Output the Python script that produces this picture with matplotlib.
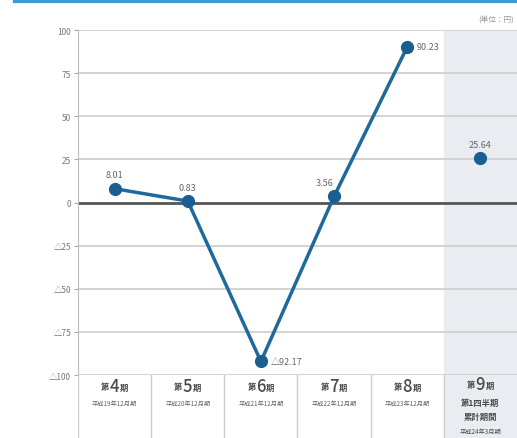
import matplotlib.pyplot as plt
import numpy as np

plt.rcParams['font.family'] = ['Noto Sans CJK JP', 'DejaVu Sans']

# 1株当たり当期純利益 (単位：円)
periods = ['4', '5', '6', '7', '8', '9']
sub_labels = ['平成19年12月期', '平成20年12月期', '平成21年12月期',
              '平成22年12月期', '平成23年12月期']
sub_label_9 = ['第1四半期', '累計期間', '平成24年3月期']
values = [8.01, 0.83, -92.17, 3.56, 90.23, 25.64]
value_text = ['8.01', '0.83', '△92.17', '3.56', '90.23', '25.64']
yticks = [100, 75, 50, 25, 0, -25, -50, -75, -100]
ytick_labels = ['100', '75', '50', '25', '0', '△25', '△50', '△75', '△100']

W, H = 517, 439
fig = plt.figure(figsize=(W / 100, H / 100), dpi=100)

# 上の青い線
fig.add_artist(plt.Line2D([15 / W, 1], [1 - 1.5 / H, 1 - 1.5 / H],
                          color='#3a9ad6', lw=3, transform=fig.transFigure))

left, right, top, bot = 78, 517, 31, 376
ax = fig.add_axes([left / W, 1 - bot / H, (right - left) / W, (bot - top) / H])
ax.set_xlim(-0.5, 5.5)
ax.set_ylim(-100, 100)

ax.axvspan(4.5, 5.5, color='#e9edf1', zorder=0)
for t in yticks:
    if t == 0:
        ax.axhline(0, color='#555555', lw=2, zorder=2)
    else:
        ax.axhline(t, color='#d0d0d0', lw=1.3, zorder=1)

x = np.arange(len(values))
ax.plot(x[:5], values[:5], color='#1f6a9c', lw=2.5, zorder=3)
ax.plot(x, values, 'o', color='#1a5e92', ms=8.5, zorder=4, lw=0)

offsets = [(0, 10, 'center'), (0, 10, 'center'), (7, 0, 'left'),
           (-7, 10, 'center'), (7, 0, 'left'), (0, 10, 'center')]
for xi, v, s, (dx, dy, ha) in zip(x, values, value_text, offsets):
    ax.annotate(s, (xi, v), xytext=(dx, dy), textcoords='offset points',
                ha=ha, va='center', fontsize=6.5, color='#666666', zorder=5)

ax.set_yticks(yticks)
ax.set_yticklabels(ytick_labels, fontsize=6, color='#777777')
ax.tick_params(axis='y', length=3, color='#aaaaaa', pad=2)
ax.set_xticks([])
for sp in ['top', 'right', 'bottom']:
    ax.spines[sp].set_visible(False)
ax.spines['left'].set_color('#bbbbbb')

# 下の表
tab = fig.add_axes([left / W, 0, (right - left) / W, (H - bot) / H])
tab.set_xlim(-0.5, 5.5)
tab.set_ylim(0, H - bot)
tab.invert_yaxis()
tab.axis('off')
tab.axvspan(4.5, 5.5, color='#e9edf1', zorder=0)
for b in np.arange(-0.5, 5.0, 1.0):
    tab.axvline(b, color='#cccccc', lw=1)

for i, p in enumerate(periods):
    yy = 11 if i < 5 else 9
    tab.text(i, yy, p, ha='center', va='center', fontsize=12, color='#4a4a4a',
             fontweight='medium')
    tab.text(i - 0.07, yy + 1, '第', ha='right', va='center', fontsize=6,
             color='#4a4a4a', fontweight='bold')
    tab.text(i + 0.07, yy + 1, '期', ha='left', va='center', fontsize=6,
             color='#4a4a4a', fontweight='bold')
for i, s in enumerate(sub_labels):
    tab.text(i, 28, s, ha='center', va='center', fontsize=4.5, color='#666666')
for j, s in enumerate(sub_label_9):
    fs = 6 if j < 2 else 4.5
    tab.text(5, 27 + j * 14.5, s, ha='center', va='center', fontsize=fs,
             color='#4a4a4a', fontweight='bold' if j < 2 else 'normal')

fig.text(1 - 3 / W, 1 - 20 / H, '(単位：円)', ha='right', va='center',
         fontsize=5.5, color='#999999')

fig.savefig('out.png', dpi=100)
